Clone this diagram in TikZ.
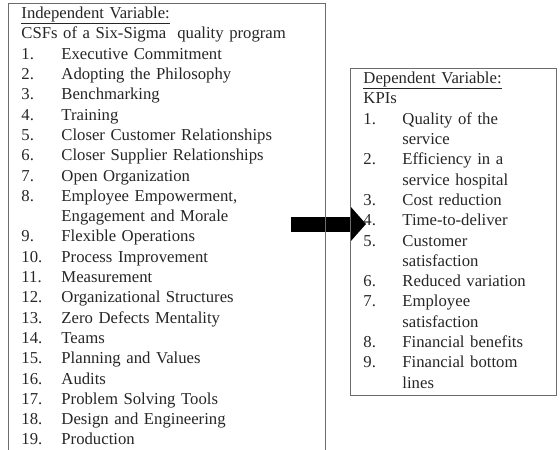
\documentclass[tikz,border=0pt]{standalone}
\usepackage{fontspec}
\setmainfont{Liberation Serif}
\usetikzlibrary{arrows.meta,positioning}
\tikzset{
listbox/.style={draw=gray!85!black, line width=0.9pt, anchor=north west, inner xsep=13pt, inner ysep=1pt, align=left, text=black!85, font=\fontsize{16.7}{20.3}\selectfont}, % the two framed lists
bigarrow/.style={line width=15pt, -{Triangle[length=15pt,width=33pt]}}, % the thick black arrow
}

\begin{document}
\begin{tikzpicture}[x=1pt,y=1pt]
\useasboundingbox (0,0) rectangle (560,-450);
\clip (0,0) rectangle (560,-450);
% arrow first, so the frames are drawn over it
\coordinate (from) at (291,-224);
\coordinate (to) at (366,-224);
\draw[bigarrow] (from) -- (to);
\node[listbox, text width=291pt] (csf) at (8,-3) {\noindent\begin{tabular}{@{}p{40pt}@{}l@{}}
\multicolumn{2}{@{}l@{}}{\underline{Independent Variable:}}\\
\multicolumn{2}{@{}l@{}}{CSFs of a Six-Sigma~ quality program}\\
1. & Executive Commitment\\
2. & Adopting the Philosophy\\
3. & Benchmarking\\
4. & Training\\
5. & Closer Customer Relationships\\
6. & Closer Supplier Relationships\\
7. & Open Organization\\
8. & Employee Empowerment,\\
   & Engagement and Morale\\
9. & Flexible Operations\\
10. & Process Improvement\\
11. & Measurement\\
12. & Organizational Structures\\
13. & Zero Defects Mentality\\
14. & Teams\\
15. & Planning and Values\\
16. & Audits\\
17. & Problem Solving Tools\\
18. & Design and Engineering\\
19. & Production
\end{tabular}};
\node[listbox, text width=180pt] (kpi) at (350,-68) {\noindent\begin{tabular}{@{}p{39pt}@{}l@{}}
\multicolumn{2}{@{}l@{}}{\underline{Dependent Variable:}}\\
\multicolumn{2}{@{}l@{}}{KPIs}\\
1. & Quality of the\\
   & service\\
2. & Efficiency in a\\
   & service hospital\\
3. & Cost reduction\\
4. & Time-to-deliver\\
5. & Customer\\
   & satisfaction\\
6. & Reduced variation\\
7. & Employee\\
   & satisfaction\\
8. & Financial benefits\\
9. & Financial bottom\\
   & lines
\end{tabular}};
\end{tikzpicture}
\end{document}
